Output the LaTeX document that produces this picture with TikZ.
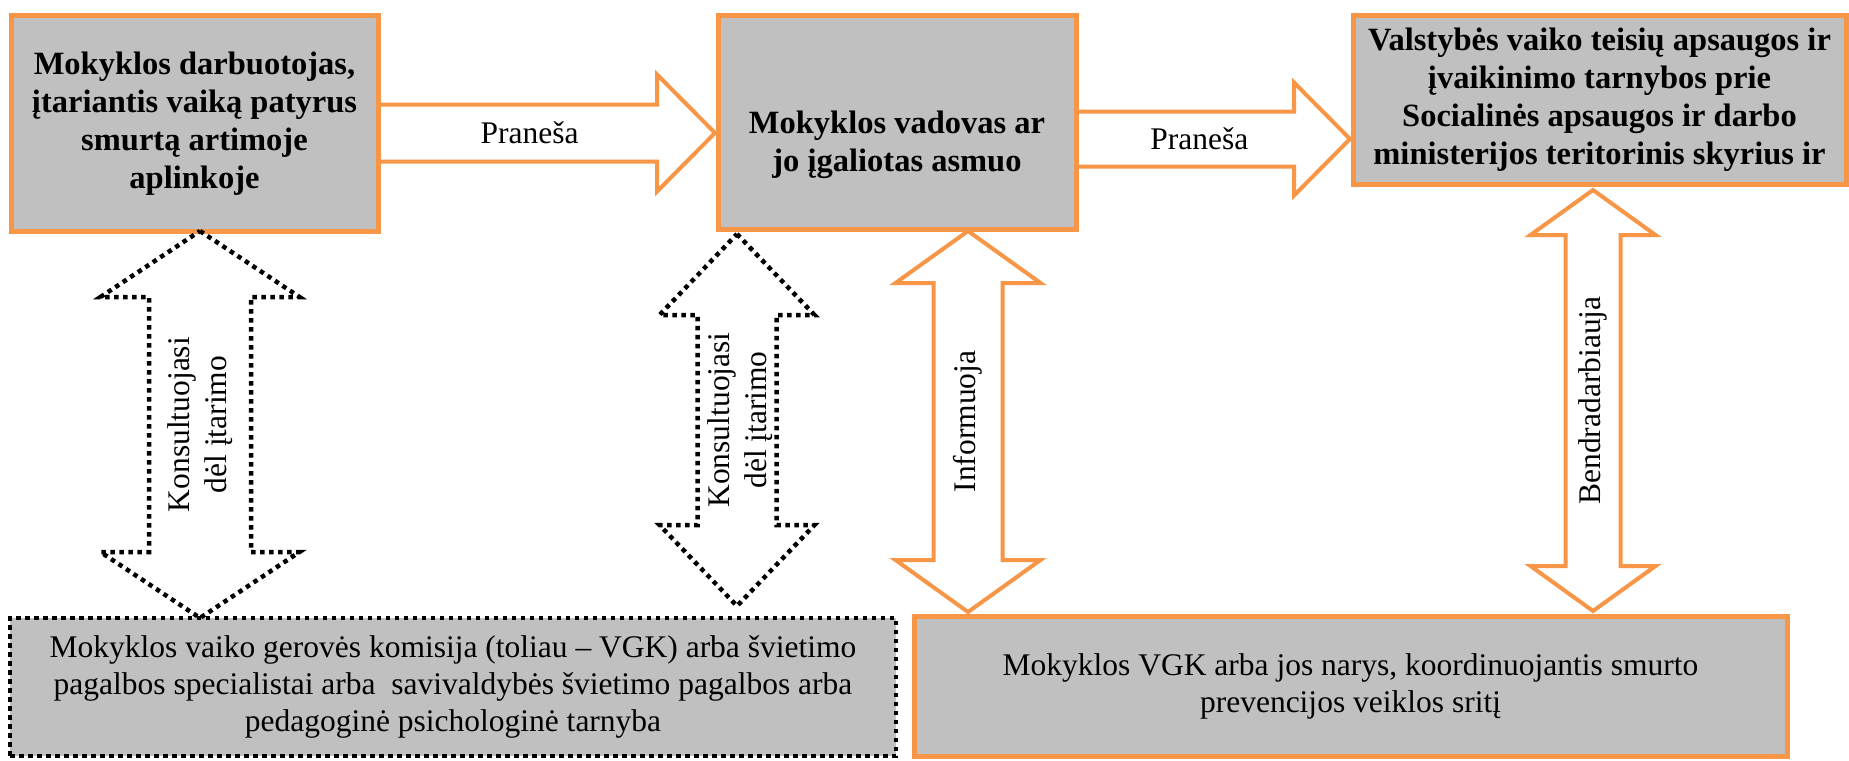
\documentclass[tikz,border=0pt]{standalone}
\usepackage{fontspec}
\setmainfont{Liberation Serif}
\usetikzlibrary{calc}

\definecolor{boxorange}{HTML}{F79646}
\definecolor{boxgray}{HTML}{C0C0C0}

\tikzstyle{box} = [draw=boxorange, line width=5pt, fill=boxgray, inner sep=0pt, outer sep=0pt, align=center]
\tikzstyle{dotbox} = [box, draw=black, line width=4.5pt, dash pattern=on 4.5pt off 4.5pt]
\tikzstyle{boldtxt} = [align=center, font=\bfseries\fontsize{32.5}{38}\selectfont]
\tikzstyle{plaintxt} = [align=center, font=\fontsize{31.5}{37}\selectfont]
\tikzstyle{flow} = [draw=boxorange, line width=4pt, line join=miter]
\tikzstyle{dotflow} = [draw=black, line width=4.5pt, dash pattern=on 4.5pt off 4.5pt]

% block arrow to the right: start, tip, shaft half width, head half width, head length
\newcommand{\rightflow}[5]{%
  \draw[flow] let \p1=(#1), \p2=(#2) in
    (\x1,\y2+#3pt) -- (\x2-#5pt,\y2+#3pt) -- (\x2-#5pt,\y2+#4pt) -- (\p2)
    -- (\x2-#5pt,\y2-#4pt) -- (\x2-#5pt,\y2-#3pt) -- (\x1,\y2-#3pt);}

% block arrow with two heads: top tip, bottom tip, shaft half, head half, head length, style
\newcommand{\updownflow}[6]{%
  \draw[#6] let \p1=(#1), \p2=(#2) in
    (\p1) -- (\x1+#4pt,\y1-#5pt) -- (\x1+#3pt,\y1-#5pt) -- (\x1+#3pt,\y2+#5pt)
    -- (\x1+#4pt,\y2+#5pt) -- (\x1,\y2) -- (\x1-#4pt,\y2+#5pt) -- (\x1-#3pt,\y2+#5pt)
    -- (\x1-#3pt,\y1-#5pt) -- (\x1-#4pt,\y1-#5pt) -- cycle;}

\begin{document}
\begin{tikzpicture}[x=1pt, y=1pt]
\fill[white] (0,0) rectangle (1849,-760);
\useasboundingbox (0,0) rectangle (1849,-760);

\node[box, boldtxt, minimum width=367pt, minimum height=215pt] (worker) at (194.5,-123.5)
    {Mokyklos darbuotojas,\\ įtariantis vaiką patyrus\\ smurtą artimoje\\ aplinkoje};
\node[box, minimum width=358pt, minimum height=213pt] (head) at (897,-122.5) {};
\node[boldtxt] (headtxt) at (897,-145) {Mokyklos vadovas ar\\ jo įgaliotas asmuo};
\node[box, boldtxt, minimum width=493pt, minimum height=168pt] (service) at (1599.5,-100)
    {Valstybės vaiko teisių apsaugos ir\\ įvaikinimo tarnybos prie\\
     Socialinės apsaugos ir darbo\\ ministerijos teritorinis skyrius ir};
\node[dotbox, plaintxt, minimum width=886pt, minimum height=138pt] (vgk) at (453,-687)
    {Mokyklos vaiko gerovės komisija (toliau – VGK) arba švietimo\\
     pagalbos specialistai arba \ savivaldybės švietimo pagalbos arba\\
     pedagoginė psichologinė tarnyba};
\node[box, plaintxt, minimum width=873pt, minimum height=140pt] (coord) at (1350.5,-686)
    {Mokyklos VGK arba jos narys, koordinuojantis smurto\\ prevencijos veiklos sritį};

\coordinate (r1s) at (worker.east |- 0,-133);
\coordinate (r1e) at ($(head.west |- 0,-133)+(-3,0)$);
\coordinate (r2s) at (head.east |- 0,-139);
\coordinate (r2e) at ($(service.west |- 0,-139)+(-3,0)$);
\coordinate (k1top) at (worker.south -| 200,0);
\coordinate (k1bot) at (vgk.north -| 200,0);
\coordinate (k2top) at ($(head.south -| 737,0)+(0,-5)$);
\coordinate (k2bot) at ($(vgk.north -| 737,0)+(0,12)$);
\coordinate (i1top) at ($(head.south -| 968,0)+(0,-2)$);
\coordinate (i1bot) at ($(coord.north -| 968,0)+(0,4)$);
\coordinate (b1top) at ($(service.south -| 1593,0)+(0,-6)$);
\coordinate (b1bot) at ($(coord.north -| 1593,0)+(0,5)$);

\rightflow{r1s}{r1e}{28.5}{58.5}{58}
\rightflow{r2s}{r2e}{27.5}{56.5}{56}
\updownflow{k1top}{k1bot}{51}{99.5}{66}{dotflow}
\updownflow{k2top}{k2bot}{39.5}{77.5}{81}{dotflow}
\updownflow{i1top}{i1bot}{34.5}{72.5}{52}{flow}
\updownflow{b1top}{b1bot}{27.5}{62.5}{45}{flow}

\node[plaintxt] (pr1) at ($(r1s)!.45!(r1e)$) {Praneša};
\node[plaintxt] (pr2) at ($(r2s)!.45!(r2e)$) {Praneša};
\node[plaintxt, rotate=90] (kons1) at ($(k1top)!.5!(k1bot)$) {Konsultuojasi\\ dėl įtarimo};
\node[plaintxt, rotate=90] (kons2) at ($(k2top)!.5!(k2bot)+(3,0)$) {Konsultuojasi\\ dėl įtarimo};
\node[plaintxt, rotate=90] (info) at ($(i1top)!.5!(i1bot)$) {Informuoja};
\node[plaintxt, rotate=90] (bend) at ($(b1top)!.5!(b1bot)$) {Bendradarbiauja};
\end{tikzpicture}
\end{document}
